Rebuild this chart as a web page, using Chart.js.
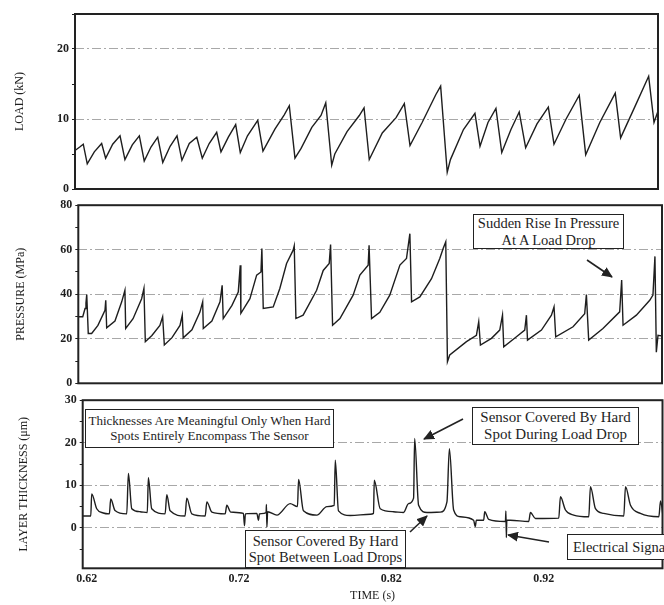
<!DOCTYPE html>
<html>
<head>
<meta charset="utf-8">
<script src="https://cdn.jsdelivr.net/npm/chart.js@4.4.1/dist/chart.umd.min.js"></script>
<style>
  html, body { margin: 0; padding: 0; background: #fff; }
  body { width: 664px; height: 605px; position: relative; overflow: hidden;
         font-family: 'Liberation Serif', 'Times New Roman', serif; color: #1e1e1e; }
  .panel { position: absolute; left: 0; width: 664px; }
  .note { position: absolute; box-sizing: border-box; border: 1.5px solid #222; background: #fff;
          display: flex; flex-direction: column; justify-content: center; align-items: center;
          white-space: nowrap; line-height: 1.12; }
  svg { position: absolute; left: 0; top: 0; pointer-events: none; }
</style>
</head>
<body>
<div class="panel" style="top:0;height:200px"><canvas id="load"></canvas></div>
<div class="panel" style="top:195px;height:200px"><canvas id="press"></canvas></div>
<div class="panel" style="top:390px;height:215px"><canvas id="thick"></canvas></div>

<div class="note" style="left:473px;top:214px;width:151px;height:35px;font-size:14.5px">
  <span>Sudden Rise In Pressure</span><span>At A Load Drop</span></div>
<div class="note" style="left:85px;top:409px;width:249px;height:39px;font-size:13px">
  <span>Thicknesses Are Meaningful Only When Hard</span><span>Spots Entirely Encompass The Sensor</span></div>
<div class="note" style="left:472px;top:407px;width:167px;height:38px;font-size:15px">
  <span>Sensor Covered By Hard</span><span>Spot During Load Drop</span></div>
<div class="note" style="left:245px;top:530px;width:161px;height:38px;font-size:14.5px">
  <span>Sensor Covered By Hard</span><span>Spot Between Load Drops</span></div>
<div class="note" style="left:567px;top:534px;width:110px;height:26px;font-size:14.5px;align-items:flex-start;padding-left:5px">
  <span>Electrical Signal</span></div>

<svg width="664" height="605">
  <defs>
    <marker id="ah" markerWidth="11" markerHeight="10" refX="10" refY="5" orient="auto" markerUnits="userSpaceOnUse">
      <path d="M0,0 L11,5 L0,10 z" fill="#222"/>
    </marker>
  </defs>
  <g stroke="#222" stroke-width="1.6" marker-end="url(#ah)">
    <line x1="587" y1="260" x2="612" y2="277"/>
    <line x1="463" y1="419" x2="424" y2="439"/>
    <line x1="410" y1="532" x2="427" y2="516"/>
    <line x1="549" y1="542" x2="508" y2="535"/>
  </g>
</svg>

<script>
// ---- data ----
const LOAD_T = [0.6174, 0.6205, 0.6228, 0.6254, 0.6300, 0.6348, 0.6374, 0.6420, 0.6468, 0.6500,
  0.6548, 0.6594, 0.6626, 0.6670, 0.6714, 0.6747, 0.6795, 0.6840, 0.6872, 0.6920,
  0.6969, 0.7005, 0.7050, 0.7099, 0.7127, 0.7175, 0.7223, 0.7253, 0.7300, 0.7367,
  0.7401, 0.7480, 0.7540, 0.7573, 0.7610, 0.7650, 0.7720, 0.7780, 0.7811, 0.7850,
  0.7870, 0.7950, 0.8030, 0.8061, 0.8095, 0.8180, 0.8270, 0.8324, 0.8361, 0.8440,
  0.8530, 0.8561, 0.8604, 0.8625, 0.8710, 0.8785, 0.8818, 0.8870, 0.8922, 0.8960,
  0.9020, 0.9074, 0.9116, 0.9190, 0.9264, 0.9301, 0.9380, 0.9466, 0.9508, 0.9600,
  0.9701, 0.9736, 0.9830, 0.9919, 0.9954, 0.9978];
const LOAD_V = [5.5, 6.0, 6.4, 3.6, 5.3, 6.5, 4.4, 6.4, 7.6, 4.2,
  6.3, 7.6, 4.0, 6.0, 7.4, 3.8, 6.1, 7.6, 4.1, 6.5,
  7.4, 4.4, 6.5, 8.1, 5.3, 7.4, 9.2, 5.2, 7.6, 9.8,
  5.4, 8.6, 10.6, 11.9, 4.4, 5.8, 8.8, 10.5, 12.3, 3.4,
  5.0, 8.2, 10.5, 11.6, 4.2, 8.0, 10.2, 12.2, 6.2, 9.5,
  13.5, 14.7, 2.4, 4.2, 8.5, 10.8, 6.1, 9.5, 11.5, 5.2,
  8.5, 11.0, 5.9, 9.3, 11.7, 6.4, 10.0, 13.4, 4.9, 9.5,
  13.7, 7.3, 11.8, 16.1, 9.5, 11.0];

const PRESS_T = [0.6174, 0.6203, 0.6218, 0.6224, 0.6229, 0.6239, 0.6261, 0.6302, 0.6348, 0.6353,
  0.6359, 0.6413, 0.6457, 0.6478, 0.6483, 0.6531, 0.6587, 0.6602, 0.6611, 0.6654,
  0.6706, 0.6724, 0.6735, 0.6785, 0.6837, 0.6852, 0.6858, 0.6915, 0.6967, 0.6985,
  0.6989, 0.7045, 0.7098, 0.7112, 0.7119, 0.7176, 0.7217, 0.7230, 0.7234, 0.7293,
  0.7337, 0.7365, 0.7371, 0.7380, 0.7445, 0.7488, 0.7532, 0.7575, 0.7582, 0.7593,
  0.7640, 0.7728, 0.7771, 0.7810, 0.7819, 0.7832, 0.7880, 0.7966, 0.8010, 0.8064,
  0.8070, 0.8086, 0.8140, 0.8205, 0.8271, 0.8314, 0.8336, 0.8347, 0.8401, 0.8477,
  0.8531, 0.8553, 0.8570, 0.8581, 0.8596, 0.8705, 0.8770, 0.8785, 0.8796, 0.8868,
  0.8922, 0.8940, 0.8948, 0.9031, 0.9085, 0.9096, 0.9103, 0.9194, 0.9259, 0.9276,
  0.9287, 0.9400, 0.9476, 0.9487, 0.9502, 0.9595, 0.9704, 0.9717, 0.9726, 0.9813,
  0.9900, 0.9921, 0.9934, 0.9943, 0.9954, 0.9976];
const PRESS_V = [29.9, 29.9, 33.6, 36.0, 39.9, 22.4, 22.4, 26.0, 32.8, 37.3,
  24.9, 28.0, 36.6, 41.8, 24.6, 29.0, 38.0, 42.6, 18.7, 21.5,
  26.0, 29.9, 17.2, 20.5, 26.0, 30.6, 20.4, 24.0, 32.0, 36.6,
  24.6, 28.0, 36.6, 44.0, 29.1, 35.0, 41.0, 53.0, 31.4, 38.0,
  48.6, 50.0, 60.5, 33.6, 34.3, 42.6, 53.8, 59.8, 61.7, 29.1,
  30.6, 41.8, 50.7, 53.8, 62.3, 26.1, 29.1, 39.6, 48.6, 53.0,
  62.0, 29.1, 31.9, 39.6, 53.1, 56.1, 67.2, 36.6, 38.8, 47.0,
  56.1, 60.5, 63.5, 9.7, 12.7, 18.7, 21.6, 27.6, 17.2, 20.2,
  23.9, 30.6, 16.4, 20.9, 23.9, 30.6, 19.4, 23.9, 30.6, 34.3,
  20.9, 25.4, 31.3, 39.9, 19.4, 24.6, 32.1, 46.4, 26.1, 30.6,
  37.3, 39.6, 57.0, 14.0, 21.6, 21.3];

const THICK_T = [0.6174, 0.6227, 0.6233, 0.6266, 0.6309, 0.6349, 0.6358, 0.6386, 0.6463, 0.6474,
  0.6496, 0.6551, 0.6598, 0.6605, 0.6627, 0.6715, 0.6726, 0.6748, 0.6846, 0.6857,
  0.6890, 0.6978, 0.6989, 0.7022, 0.7109, 0.7120, 0.7146, 0.7229, 0.7236, 0.7242,
  0.7317, 0.7328, 0.7334, 0.7378, 0.7380, 0.7383, 0.7388, 0.7449, 0.7536, 0.7584,
  0.7591, 0.7623, 0.7711, 0.7777, 0.7825, 0.7832, 0.7853, 0.7930, 0.8062, 0.8083,
  0.8088, 0.8127, 0.8215, 0.8280, 0.8313, 0.8346, 0.8353, 0.8379, 0.8434, 0.8521,
  0.8565, 0.8581, 0.8609, 0.8653, 0.8740, 0.8751, 0.8758, 0.8806, 0.8813, 0.8839,
  0.8949, 0.8952, 0.8955, 0.8958, 0.8981, 0.9102, 0.9113, 0.9146, 0.9299, 0.9310,
  0.9343, 0.9397, 0.9496, 0.9507, 0.9540, 0.9594, 0.9726, 0.9737, 0.9770, 0.9835,
  0.9956, 0.9967, 0.9985];
const THICK_V = [2.8, 2.8, 8.0, 4.5, 3.5, 3.3, 6.8, 4.1, 3.3, 12.8,
  4.5, 3.8, 3.6, 11.8, 4.5, 3.3, 7.8, 4.0, 2.8, 7.0,
  3.3, 2.8, 6.1, 3.7, 3.3, 5.3, 3.7, 3.4, 0.5, 3.3,
  3.4, 1.8, 3.3, 3.6, 5.5, 0.2, 3.8, 3.0, 5.7, 5.0,
  11.4, 4.0, 3.0, 5.0, 5.3, 15.9, 4.0, 2.9, 3.2, 3.4,
  11.2, 4.5, 3.8, 3.6, 5.7, 7.0, 21.0, 5.3, 3.6, 3.7,
  6.1, 18.6, 4.2, 2.6, 1.8, 0.3, 1.8, 1.8, 3.8, 2.0,
  1.5, 4.0, -2.3, 1.8, 1.8, 1.5, 3.6, 2.2, 2.3, 7.3,
  4.2, 3.0, 2.6, 9.7, 4.5, 3.4, 2.8, 9.7, 5.3, 3.4,
  2.6, 6.3, 2.3];

const TIME_TICKS = [0.62, 0.72, 0.82, 0.92];
const LOAD_TICKS = [0, 5, 10, 15, 20, 25];
const LOAD_LABELS = [0, 10, 20];
const LOAD_GRID = [10, 20];
const PRESS_TICKS = [0, 10, 20, 30, 40, 50, 60, 70, 80];
const PRESS_LABELS = [0, 20, 40, 60, 80];
const PRESS_GRID = [20, 40, 60];
const THICK_TICKS = [-5, 0, 5, 10, 15, 20, 25, 30];
const THICK_LABELS = [0, 10, 20, 30];
const THICK_GRID = [0, 10, 20];

const T_MIN = 0.6174, T_MAX = 0.998;
const INK = '#1e1e1e';
const GRID = '#a8a8a8';

Chart.defaults.font.family = "'Liberation Serif', 'Times New Roman', serif";
Chart.defaults.color = INK;

const pts = (ts, vs) => ts.map((t, i) => ({ x: t, y: vs[i] }));

// heavy box round each plot
const frame = {
  id: 'frame',
  afterDatasetsDraw(c) {
    const a = c.chartArea, ctx = c.ctx;
    ctx.save();
    ctx.lineWidth = 2;
    ctx.strokeStyle = '#222';
    ctx.strokeRect(a.left, a.top, a.right - a.left, a.bottom - a.top);
    ctx.restore();
  }
};

function panel(id, o) {
  const x = o.timeAxis ? {
    type: 'linear', min: T_MIN, max: T_MAX,
    afterBuildTicks: s => { s.ticks = TIME_TICKS.map(v => ({ value: v })); },
    afterFit: s => { s.height = o.xHeight; },
    ticks: { callback: v => v.toFixed(2), font: { size: 12, weight: 'bold' }, color: INK,
             padding: 3, maxRotation: 0, autoSkip: false },
    grid: { display: false, drawTicks: false },
    border: { display: false },
    title: { display: true, text: 'TIME (s)', font: { size: 12 }, color: INK, padding: { top: 0, bottom: 2 } }
  } : { type: 'linear', display: false, min: T_MIN, max: T_MAX };

  return new Chart(document.getElementById(id), {
    type: 'line',
    data: {
      datasets: [{
        data: pts(o.t, o.v),
        borderColor: INK,
        borderWidth: 1.4,
        pointRadius: 0,
        tension: 0,
        cubicInterpolationMode: o.smooth ? 'monotone' : 'default'
      }]
    },
    options: {
      responsive: true,
      maintainAspectRatio: false,
      animation: false,
      parsing: false,
      layout: { padding: o.pad },
      plugins: { legend: { display: false }, tooltip: { enabled: false } },
      scales: {
        x,
        y: {
          type: 'linear', min: o.min, max: o.max,
          afterBuildTicks: s => { s.ticks = o.ticks.map(v => ({ value: v })); },
          afterFit: s => { s.width = o.left; },
          ticks: { callback: v => o.labels.includes(v) ? String(v) : '',
                   font: { size: 12, weight: 'bold' }, color: INK, padding: 3, autoSkip: false },
          grid: {
            color: c => (c.tick && o.grid.includes(c.tick.value)) ? GRID : 'rgba(0,0,0,0)',
            tickColor: INK, tickLength: 3, lineWidth: 1
          },
          border: { display: false, dash: [9, 3, 2, 3] },
          title: { display: true, text: o.title, font: { size: 12 }, color: INK,
                   padding: { top: o.titlePad, bottom: 0 } }
        }
      }
    },
    plugins: [frame]
  });
}

panel('load', {
  t: LOAD_T, v: LOAD_V, min: 0, max: 25,
  ticks: LOAD_TICKS, labels: LOAD_LABELS, grid: LOAD_GRID,
  title: 'LOAD (kN)', titlePad: 13, left: 75,
  pad: { top: 14, right: 6, bottom: 11, left: 0 }
});

panel('press', {
  t: PRESS_T, v: PRESS_V, min: 0, max: 80,
  ticks: PRESS_TICKS, labels: PRESS_LABELS, grid: PRESS_GRID,
  title: 'PRESSURE (MPa)', titlePad: 14, left: 78.3,
  pad: { top: 9.3, right: 2, bottom: 11.7, left: 0 }
});

panel('thick', {
  t: THICK_T, v: THICK_V, min: -9.5, max: 30, smooth: true,
  ticks: THICK_TICKS, labels: THICK_LABELS, grid: THICK_GRID,
  title: 'LAYER THICKNESS (\u03bcm)', titlePad: 17, left: 82.7,
  timeAxis: true, xHeight: 36.7,
  pad: { top: 10, right: 1.5, bottom: 0, left: 0 }
});
</script>
</body>
</html>
